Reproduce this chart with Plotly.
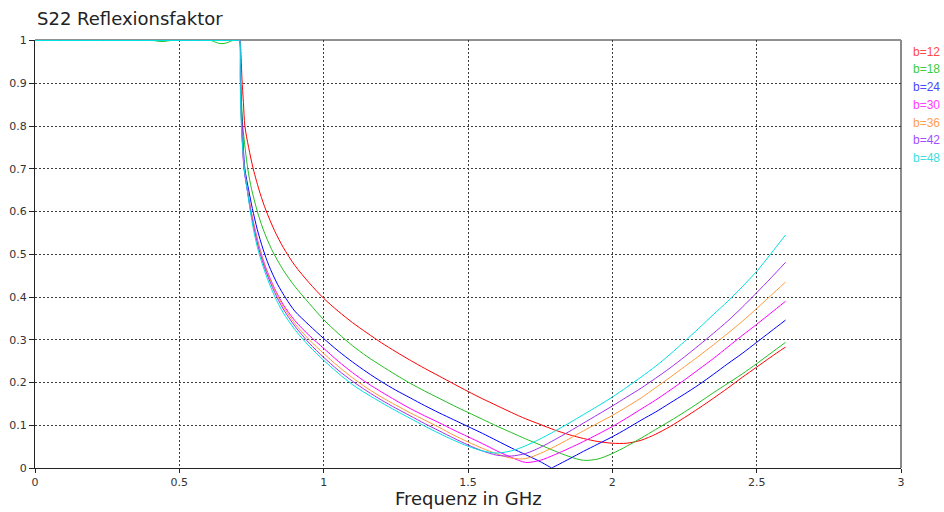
import plotly.graph_objects as go

# ---------------- data ----------------
series_names = ["b=12", "b=18", "b=24", "b=30", "b=36", "b=42", "b=48"]
line_colors = ["#ff0000", "#20c020", "#0000ff", "#ff00ff", "#ff9a3c", "#a030f0", "#00e0e0"]
text_colors = ["#ff4a4a", "#40cc40", "#4a4aff", "#ff40ff", "#ffa050", "#a050ff", "#40dede"]

# frequency grid (GHz) used above 1 GHz
grid_f = [1.05, 1.1, 1.15, 1.2, 1.25, 1.3, 1.35, 1.4, 1.45, 1.5, 1.55, 1.6, 1.65, 1.7,
          1.75, 1.8, 1.85, 1.9, 1.95, 2.0, 2.05, 2.1, 2.15, 2.2, 2.25, 2.3, 2.35, 2.4, 2.45,
          2.5, 2.55, 2.6]

# up to 1 GHz: pass band edge and steep drop, per series
low_f_b12 = [0, 0.709, 0.71, 0.714, 0.717, 0.722, 0.727, 0.74, 0.756, 0.78, 0.8, 0.83, 0.86,
             0.9, 0.95, 1.0]
low_s_b12 = [1, 1, 1, 0.96, 0.91, 0.855, 0.8, 0.75, 0.7, 0.642, 0.603, 0.555, 0.516,
             0.474, 0.433, 0.397]
s_b12 = [0.367, 0.34, 0.316, 0.293, 0.272, 0.252, 0.233, 0.215, 0.197, 0.179, 0.162,
         0.146, 0.13, 0.115, 0.102, 0.089, 0.078, 0.069, 0.062, 0.058, 0.058, 0.065, 0.079,
         0.097, 0.118, 0.14, 0.163, 0.187, 0.212, 0.236, 0.26, 0.283]

low_f_b18 = [0, 0.41, 0.43, 0.45, 0.47, 0.61, 0.625, 0.64, 0.655, 0.67, 0.685, 0.709, 0.71,
             0.713, 0.72, 0.737, 0.75, 0.77, 0.79, 0.82, 0.86, 0.9, 0.95, 1.0]
low_s_b18 = [1, 1, 0.998, 0.998, 1, 1, 0.996, 0.993, 0.993, 0.996, 1, 1, 1,
             0.9, 0.8, 0.7, 0.653, 0.601, 0.559, 0.511, 0.463, 0.425, 0.385, 0.347]
s_b18 = [0.315, 0.286, 0.261, 0.239, 0.218, 0.198, 0.18, 0.163, 0.146, 0.13, 0.114,
         0.098, 0.083, 0.068, 0.054, 0.04, 0.027, 0.018, 0.021, 0.034, 0.051, 0.07, 0.09,
         0.11, 0.131, 0.153, 0.176, 0.198, 0.22, 0.244, 0.269, 0.294]

low_f_b24 = [0, 0.709, 0.71, 0.712, 0.718, 0.727, 0.74, 0.753, 0.77, 0.79, 0.81, 0.84, 0.87,
             0.9, 0.95, 1.0]
low_s_b24 = [1, 1, 1, 0.9, 0.8, 0.7, 0.651, 0.607, 0.558, 0.512, 0.474, 0.43, 0.396,
             0.367, 0.334, 0.303]
mid_f_b24 = [1.05, 1.1, 1.15, 1.2, 1.25, 1.3, 1.35, 1.4, 1.45, 1.5, 1.55, 1.6, 1.65,
             1.7, 1.75, 1.787, 1.79, 1.793, 1.85, 1.9, 1.95, 2.0, 2.05, 2.1, 2.15, 2.2, 2.25,
             2.3, 2.35, 2.4, 2.45, 2.5, 2.55, 2.6]
s_b24 = [0.274, 0.248, 0.224, 0.202, 0.182, 0.164, 0.146, 0.129, 0.113, 0.097, 0.081,
         0.064, 0.047, 0.031, 0.015, 0.001, 0.0, 0.001, 0.021, 0.039, 0.056, 0.073, 0.092,
         0.112, 0.131, 0.152, 0.173, 0.195, 0.219, 0.244, 0.268, 0.294, 0.32, 0.346]

low_f_b30 = [0, 0.709, 0.71, 0.712, 0.716, 0.724, 0.735, 0.748, 0.763, 0.78, 0.8, 0.83, 0.86,
             0.9, 0.95, 1.0]
low_s_b30 = [1, 1, 1, 0.9, 0.8, 0.7, 0.652, 0.603, 0.556, 0.51, 0.468, 0.42, 0.382,
             0.345, 0.31, 0.28]
s_b30 = [0.25, 0.223, 0.199, 0.178, 0.158, 0.139, 0.122, 0.106, 0.089, 0.073, 0.057,
         0.04, 0.025, 0.013, 0.018, 0.031, 0.046, 0.062, 0.079, 0.097, 0.117, 0.138, 0.159,
         0.182, 0.206, 0.231, 0.256, 0.283, 0.31, 0.336, 0.363, 0.39]

low_f_b36 = [0, 0.709, 0.71, 0.712, 0.716, 0.725, 0.735, 0.747, 0.762, 0.778, 0.8, 0.83, 0.86,
             0.9, 0.95, 1.0]
low_s_b36 = [1, 1, 1, 0.9, 0.8, 0.7, 0.655, 0.606, 0.557, 0.512, 0.465, 0.417, 0.378,
             0.338, 0.3, 0.268]
s_b36 = [0.238, 0.211, 0.187, 0.166, 0.147, 0.129, 0.112, 0.095, 0.077, 0.061, 0.046,
         0.033, 0.023, 0.022, 0.034, 0.05, 0.068, 0.087, 0.105, 0.123, 0.143, 0.164, 0.188,
         0.212, 0.237, 0.262, 0.288, 0.315, 0.343, 0.373, 0.404, 0.435]

low_f_b42 = [0, 0.709, 0.71, 0.712, 0.716, 0.725, 0.735, 0.746, 0.76, 0.776, 0.8, 0.83, 0.86,
             0.9, 0.95, 1.0]
low_s_b42 = [1, 1, 1, 0.9, 0.8, 0.7, 0.653, 0.605, 0.556, 0.51, 0.46, 0.411, 0.372,
             0.332, 0.292, 0.259]
s_b42 = [0.229, 0.203, 0.18, 0.159, 0.14, 0.122, 0.104, 0.087, 0.07, 0.054, 0.04,
         0.03, 0.028, 0.034, 0.048, 0.066, 0.085, 0.105, 0.125, 0.145, 0.166, 0.187, 0.21,
         0.234, 0.26, 0.287, 0.315, 0.344, 0.376, 0.41, 0.445, 0.481]

low_f_b48 = [0, 0.709, 0.71, 0.711, 0.715, 0.725, 0.735, 0.745, 0.758, 0.774, 0.8, 0.83, 0.86,
             0.9, 0.95, 1.0]
low_s_b48 = [1, 1, 1, 0.9, 0.8, 0.7, 0.652, 0.604, 0.554, 0.507, 0.452, 0.402, 0.363,
             0.324, 0.285, 0.252]
s_b48 = [0.222, 0.195, 0.173, 0.153, 0.134, 0.116, 0.098, 0.081, 0.065, 0.051, 0.04,
         0.035, 0.04, 0.052, 0.068, 0.086, 0.105, 0.125, 0.145, 0.166, 0.189, 0.213, 0.238,
         0.266, 0.296, 0.327, 0.359, 0.39, 0.424, 0.46, 0.502, 0.545]

freqs = [low_f_b12 + grid_f, low_f_b18 + grid_f, low_f_b24 + mid_f_b24, low_f_b30 + grid_f,
         low_f_b36 + grid_f, low_f_b42 + grid_f, low_f_b48 + grid_f]
values = [low_s_b12 + s_b12, low_s_b18 + s_b18, low_s_b24 + s_b24, low_s_b30 + s_b30,
          low_s_b36 + s_b36, low_s_b42 + s_b42, low_s_b48 + s_b48]

x_tick_vals = [0, 0.5, 1, 1.5, 2, 2.5, 3]
x_tick_text = ["0", "0.5", "1", "1.5", "2", "2.5", "3"]
y_tick_vals = [0, 0.1, 0.2, 0.3, 0.4, 0.5, 0.6, 0.7, 0.8, 0.9, 1]
y_tick_text = ["0", "0.1", "0.2", "0.3", "0.4", "0.5", "0.6", "0.7", "0.8", "0.9", "1"]

title_text = "S22 Reflexionsfaktor"
x_title = "Frequenz in GHz"

# ---------------- figure ----------------
W, H = 944, 512
ML, MR, MT, MB = 35, 43, 40, 44
plot_h = H - MT - MB
plot_w = W - ML - MR

fig = go.Figure()
for name, fx, fy, col in zip(series_names, freqs, values, line_colors):
    fig.add_trace(go.Scatter(x=fx, y=fy, mode="lines", name=name,
                             line=dict(color=col, width=1, shape="spline", smoothing=0.8),
                             showlegend=False, hoverinfo="skip"))

grid_col = "#3a3a3a"
tick_font = dict(family="DejaVu Sans, Verdana, sans-serif", size=11, color="#333333")

fig.update_layout(
    width=W, height=H,
    margin=dict(l=ML, r=MR, t=MT, b=MB, pad=0, autoexpand=False),
    paper_bgcolor="white", plot_bgcolor="white",
    showlegend=False,
    title=dict(text=title_text, xref="container", yref="container",
               x=37 / W, xanchor="left", y=1 - 19 / H, yanchor="middle",
               font=dict(family="DejaVu Sans, Verdana, sans-serif", size=18, color="#222222")),
    xaxis=dict(range=[0, 3], tickvals=x_tick_vals, ticktext=x_tick_text,
               showgrid=True, gridcolor=grid_col, gridwidth=1, griddash="2px,2px",
               showline=True, linecolor="#222222", linewidth=1, mirror=False,
               ticks="outside", ticklen=4, tickcolor="#222222", tickfont=tick_font,
               zeroline=False, layer="below traces", fixedrange=True, automargin=False),
    yaxis=dict(range=[0, 1.0012], tickvals=y_tick_vals, ticktext=y_tick_text,
               showgrid=True, gridcolor=grid_col, gridwidth=1, griddash="2px,2px",
               showline=True, linecolor="#222222", linewidth=1, mirror=False,
               ticks="outside", ticklen=5, tickcolor="#222222", tickfont=tick_font,
               zeroline=False, layer="below traces", fixedrange=True, automargin=False),
)

# frame: dark top, gray right (drawn below the curves)
fig.add_shape(type="line", xref="x domain", yref="y domain", x0=0, x1=1, y0=1, y1=1,
              line=dict(color="#222222", width=1), layer="below")
fig.add_shape(type="line", xref="x domain", yref="y domain", x0=1, x1=1, y0=0, y1=1,
              line=dict(color="#8a8a8a", width=2), layer="below")

# axis title
fig.add_annotation(text=x_title, xref="paper", yref="paper", x=0.5, y=-(498 - (H - MB)) / plot_h,
                   xanchor="center", yanchor="middle", showarrow=False,
                   font=dict(family="DejaVu Sans, Verdana, sans-serif", size=18, color="#222222"))

# legend as coloured text
for i, (name, col) in enumerate(zip(series_names, text_colors)):
    ypix = 51.7 + i * 17.7
    fig.add_annotation(text=name, xref="paper", yref="paper",
                       x=(911 - ML) / plot_w, y=(H - MB - ypix) / plot_h,
                       xanchor="left", yanchor="middle", showarrow=False,
                       font=dict(family="Liberation Sans, Arial, sans-serif", size=12, color=col))

fig.write_html("out.html")
